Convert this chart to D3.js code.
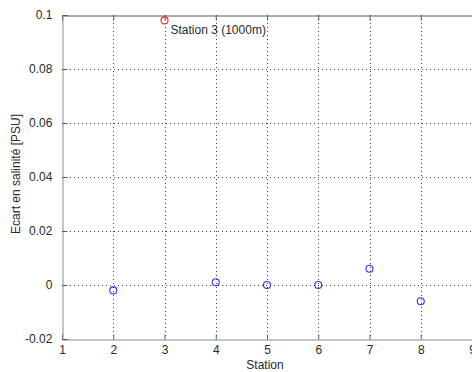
<!DOCTYPE html>
<html>
<head>
<meta charset="utf-8">
<script src="https://cdn.jsdelivr.net/npm/d3@7"></script>
<style>
  html, body { margin: 0; padding: 0; background: #fff; overflow: hidden; }
  text { font-family: "Liberation Sans", Arial, sans-serif; font-size: 12px; fill: #2a2a2a; }
</style>
</head>
<body>
<svg id="chart" width="472" height="372"></svg>
<script>
// Salinity offset per station
const stations = [2, 4, 5, 6, 7, 8];
const offsets = [-0.002, 0.001, 0, 0, 0.006, -0.006];
// Outlier station highlighted in red
const outlierStation = [3];
const outlierOffset = [0.098];
const outlierLabel = ["Station 3 (1000m)"];
const xTicks = [1, 2, 3, 4, 5, 6, 7, 8, 9];
const yTicks = [-0.02, 0, 0.02, 0.04, 0.06, 0.08, 0.1];
const yTickLabels = ["-0.02", "0", "0.02", "0.04", "0.06", "0.08", "0.1"];

const svg = d3.select("#chart");
const m = { left: 62, top: 15, bottom: 339 };
const x = d3.scaleLinear().domain([1, 9]).range([m.left, m.left + 8 * 51.25]);
const y = d3.scaleLinear().domain([-0.02, 0.1]).range([m.bottom, m.top]);

// dotted grid
const grid = svg.append("g").attr("stroke", "#444").attr("stroke-dasharray", "1,3").attr("stroke-width", 1);
xTicks.slice(1, -1).forEach(t => grid.append("line").attr("x1", Math.round(x(t)) + 0.5).attr("x2", Math.round(x(t)) + 0.5).attr("y1", m.top).attr("y2", m.bottom));
yTicks.slice(1, -1).forEach(t => grid.append("line").attr("y1", Math.round(y(t)) + 0.5).attr("y2", Math.round(y(t)) + 0.5).attr("x1", m.left).attr("x2", x(9)));

// axes (box style: ticks point inward, labels outside)
const xb = d3.axisBottom(x).tickValues(xTicks).tickSize(-5).tickPadding(6).tickFormat(d3.format("d"));
const xt = d3.axisTop(x).tickValues(xTicks).tickSize(-5).tickFormat("");
const yl = d3.axisLeft(y).tickValues(yTicks).tickSize(-5).tickPadding(9).tickFormat((d, i) => yTickLabels[i]);
const gX = svg.append("g").attr("transform", `translate(0,${m.bottom + 0.5})`).call(xb);
const gXt = svg.append("g").attr("transform", `translate(0,${m.top + 0.5})`).call(xt);
const gY = svg.append("g").attr("transform", `translate(${m.left + 0.5},0)`).call(yl);
[gX, gXt, gY].forEach(g => {
  g.selectAll(".domain").attr("stroke", "#5a5a5a");
  g.selectAll(".tick line").attr("stroke", "#5a5a5a");
  g.selectAll("text").attr("fill", "#2a2a2a").style("font-size", "12px").style("font-family", "'Liberation Sans', Arial, sans-serif");
});
gX.selectAll(".domain").attr("stroke", "#8a8a8a");
gY.selectAll(".domain").attr("stroke", "#8a8a8a");
gY.selectAll("text").attr("dx", "-0.1em");

// axis labels
svg.append("text").attr("x", 265).attr("y", 369).attr("text-anchor", "middle").text("Station");
svg.append("text").attr("transform", "translate(20,174) rotate(-90)").attr("text-anchor", "middle").text("Ecart en salinité [PSU]");

// data markers
svg.append("g").selectAll("circle").data(stations).join("circle")
  .attr("cx", (d) => x(d)).attr("cy", (d, i) => y(offsets[i])).attr("r", 3.5)
  .attr("fill", "none").attr("stroke", "#3030ff").attr("stroke-width", 1.1);
svg.append("g").selectAll("circle").data(outlierStation).join("circle")
  .attr("cx", (d) => x(d)).attr("cy", (d, i) => y(outlierOffset[i])).attr("r", 3.5)
  .attr("fill", "none").attr("stroke", "#ff2020").attr("stroke-width", 1.1);
svg.append("text").attr("x", x(outlierStation[0]) + 6).attr("y", y(outlierOffset[0]) + 14).text(outlierLabel[0]);
</script>
</body>
</html>
